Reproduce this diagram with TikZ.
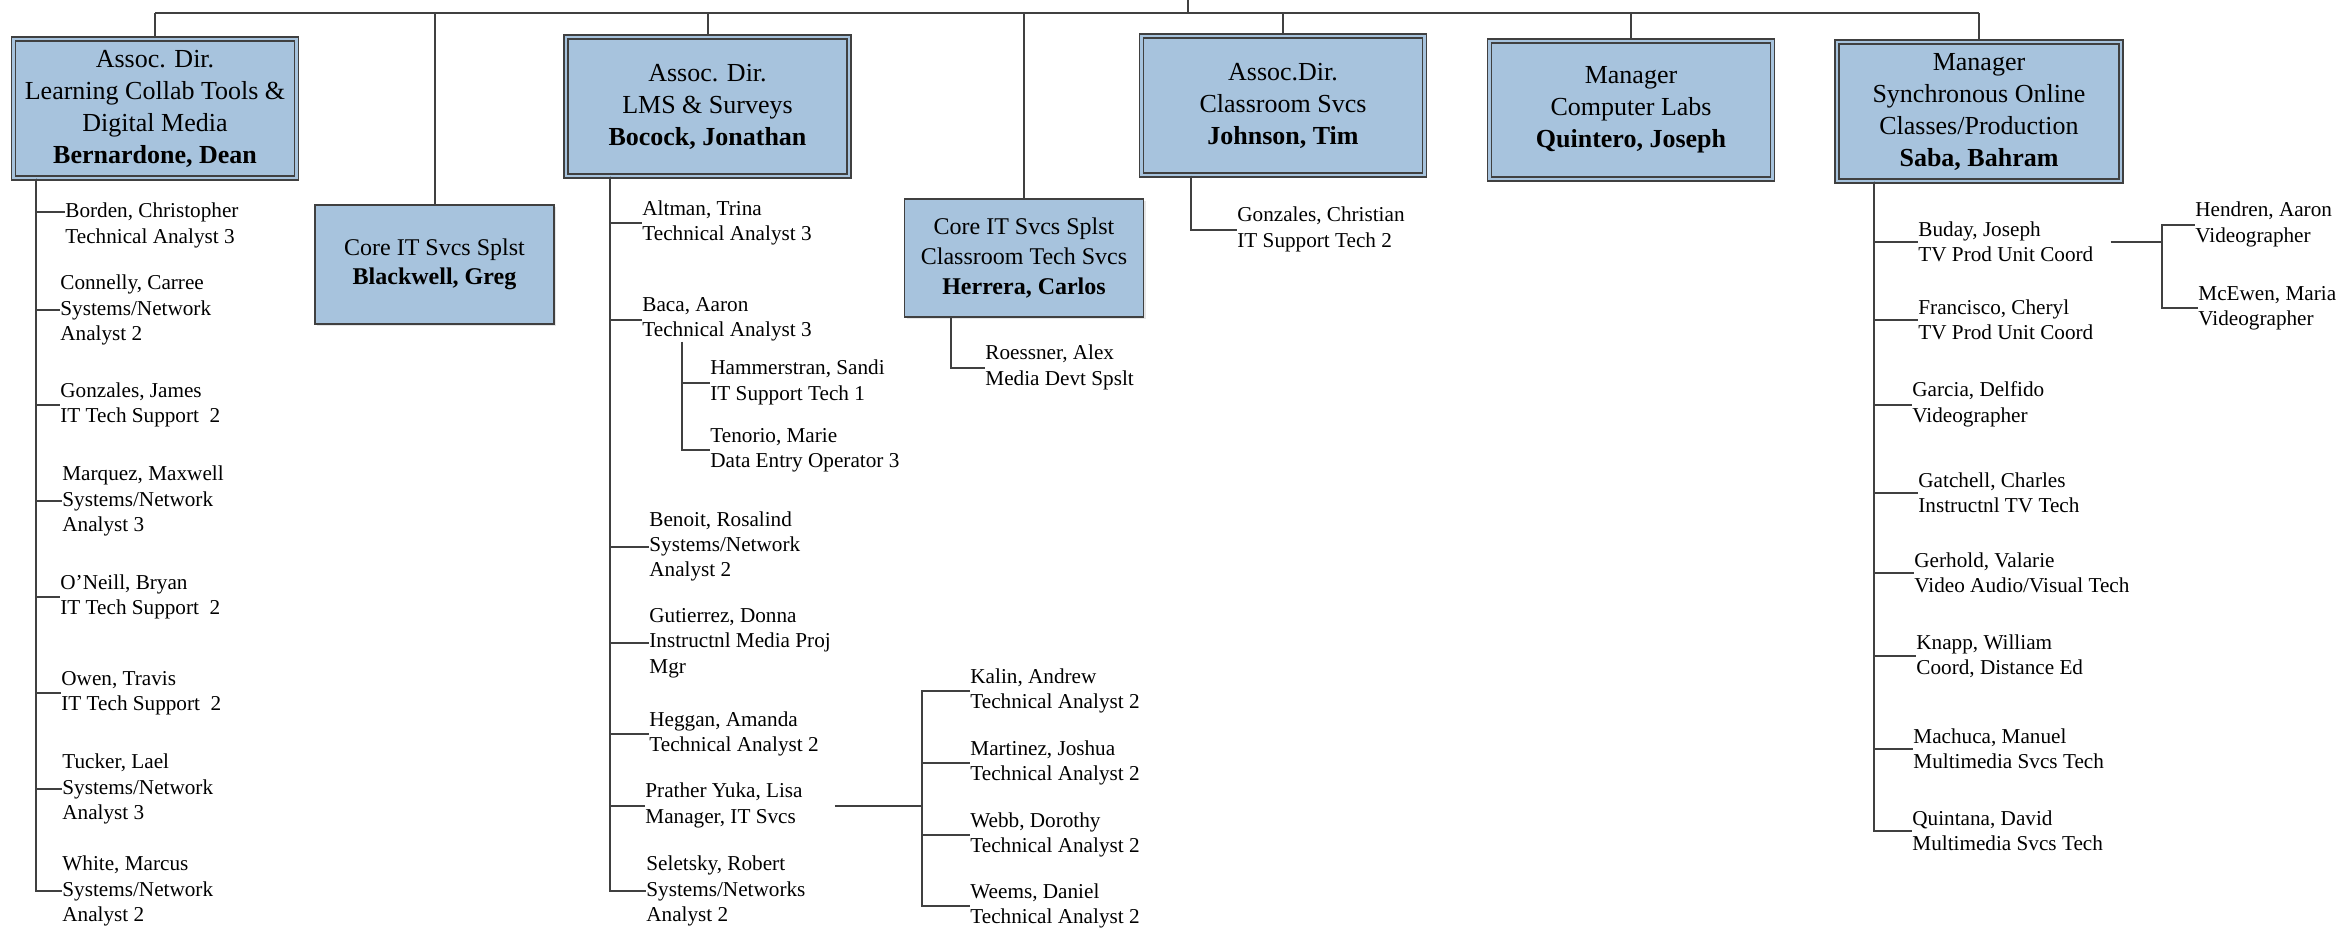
\documentclass[tikz,border=0pt]{standalone}
\usepackage{fontspec}
\setmainfont{Liberation Serif}
\usetikzlibrary{positioning,calc,shadows}
\definecolor{BoxBlue}{RGB}{167,195,221}
\definecolor{LineGray}{RGB}{64,64,64}

\begin{document}
\begin{tikzpicture}[x=0.5pt, y=-0.5pt,
  link/.style={draw=LineGray, line width=1pt},
  leadbox/.style={draw=LineGray, line width=0.7pt, double=BoxBlue, double distance=1.4pt,
    fill=BoxBlue, align=center, inner sep=0pt, font=\fontsize{13}{16}\selectfont,
    minimum width=141.5pt, minimum height=69.5pt,
    drop shadow={shadow xshift=1.2pt, shadow yshift=-1.2pt, opacity=0.2}},
  corebox/.style={draw=LineGray, line width=0.9pt, fill=BoxBlue, align=center, inner sep=0pt,
    font=\fontsize{12}{14.8}\selectfont, minimum width=119.5pt, minimum height=59pt,
    drop shadow={shadow xshift=1.2pt, shadow yshift=-1.2pt, opacity=0.2}},
  staff/.style={anchor=west, align=left, inner sep=0pt, font=\fontsize{10.6}{12.7}\selectfont}]

\useasboundingbox (0,0) rectangle (2339,932);

% top row
\node[leadbox] (bern) at (155,108.5)
  {Assoc. Dir.\\Learning Collab Tools \&\\Digital Media\\\textbf{Bernardone, Dean}};
\node[corebox, minimum height=59.5pt] (blackwell) at (434.5,264.5)
  {Core IT Svcs Splst\\\textbf{Blackwell, Greg}};
\node[leadbox] (bocock) at (707.5,106.5)
  {Assoc. Dir.\\LMS \& Surveys\\\textbf{Bocock, Jonathan}};
\node[corebox] (herrera) at (1024,258)
  {Core IT Svcs Splst\\Classroom Tech Svcs\\\textbf{Herrera, Carlos}};
\node[leadbox] (johnson) at (1283,105.5)
  {Assoc.Dir.\\Classroom Svcs\\\textbf{Johnson, Tim}};
\node[leadbox, minimum height=69pt] (quintero) at (1631,110)
  {Manager\\Computer Labs\\\textbf{Quintero, Joseph}};
\node[leadbox, minimum width=142pt] (saba) at (1979,111.5)
  {Manager\\Synchronous Online\\Classes/Production\\\textbf{Saba, Bahram}};

\coordinate (root) at (1188,0);
\coordinate (bus) at (1188,13);
\draw[link] (root) -- (bus);
\draw[link] (bern.north |- bus) -- (saba.north |- bus);
\foreach \b in {bern,blackwell,bocock,herrera,johnson,quintero,saba}
  \draw[link] (\b.north |- bus) -- (\b.north);

% Bernardone
\node[staff] (borden) at (65,225.5) {Borden, Christopher\\Technical Analyst 3};
\node[staff] (connelly) at (60,310) {Connelly, Carree\\Systems/Network\\Analyst 2};
\node[staff] (gonzalesj) at (60,405) {Gonzales, James\\IT Tech Support~ 2};
\node[staff] (marquez) at (62,501) {Marquez, Maxwell\\Systems/Network\\Analyst 3};
\node[staff] (oneill) at (60,597) {O'Neill, Bryan\\IT Tech Support~ 2};
\node[staff] (owen) at (61,693) {Owen, Travis\\IT Tech Support~ 2};
\node[staff] (tucker) at (62,789) {Tucker, Lael\\Systems/Network\\Analyst 3};
\node[staff] (white) at (62,891) {White, Marcus\\Systems/Network\\Analyst 2};
\coordinate (bern-trunk) at ([xshift=11.5pt]bern.south west);
\draw[link] (bern-trunk) |- ([yshift=7pt]borden.west);
\foreach \c in {connelly,gonzalesj,marquez,oneill,owen,tucker,white}
  \draw[link] (bern-trunk) |- (\c.west);

% Bocock
\node[staff] (altman) at (642,223) {Altman, Trina\\Technical Analyst 3};
\node[staff] (baca) at (642,319.5) {Baca, Aaron\\Technical Analyst 3};
\node[staff] (hammer) at (710,382.5) {Hammerstran, Sandi\\IT Support Tech 1};
\node[staff] (tenorio) at (710,450) {Tenorio, Marie\\Data Entry Operator 3};
\node[staff] (benoit) at (649,546.5) {Benoit, Rosalind\\Systems/Network\\Analyst 2};
\node[staff] (gutierrez) at (649,643) {Gutierrez, Donna\\Instructnl Media Proj\\Mgr};
\node[staff] (heggan) at (649,734) {Heggan, Amanda\\Technical Analyst 2};
\node[staff] (prather) at (645,805.5) {Prather Yuka, Lisa\\Manager, IT Svcs};
\node[staff] (seletsky) at (646,891) {Seletsky, Robert\\Systems/Networks\\Analyst 2};
\node[staff] (kalin) at (970,691) {Kalin, Andrew\\Technical Analyst 2};
\node[staff] (martinez) at (970,763) {Martinez, Joshua\\Technical Analyst 2};
\node[staff] (webb) at (970,835) {Webb, Dorothy\\Technical Analyst 2};
\node[staff] (weems) at (970,906) {Weems, Daniel\\Technical Analyst 2};
\coordinate (bocock-trunk) at ([xshift=22.5pt]bocock.south west);
\foreach \c in {altman,baca,benoit,gutierrez,heggan,prather,seletsky}
  \draw[link] (bocock-trunk) |- (\c.west);
\coordinate (baca-trunk) at ([xshift=20pt]baca.south west);
\foreach \c in {hammer,tenorio}
  \draw[link] (baca-trunk) |- (\c.west);
\coordinate (prather-hub) at ([xshift=-24pt]kalin.west |- prather.east);
\draw[link] ([xshift=16pt]prather.east) -- (prather-hub);
\foreach \c in {kalin,martinez,webb,weems}
  \draw[link] (prather-hub) |- (\c.west);

% Herrera, Johnson
\node[staff] (roessner) at (985,367.5) {Roessner, Alex\\Media Devt Spslt};
\draw[link] ([xshift=23.5pt]herrera.south west) |- (roessner.west);
\node[staff] (gonzalesc) at (1237,229.5) {Gonzales, Christian\\IT Support Tech 2};
\draw[link] ([xshift=25pt]johnson.south west) |- (gonzalesc.west);

% Saba
\node[staff] (buday) at (1918,242) {Buday, Joseph\\TV Prod Unit Coord};
\node[staff] (francisco) at (1918,320) {Francisco, Cheryl\\TV Prod Unit Coord};
\node[staff] (garcia) at (1912,404.5) {Garcia, Delfido\\Videographer};
\node[staff] (gatchell) at (1918,493) {Gatchell, Charles\\Instructnl TV Tech};
\node[staff] (gerhold) at (1914,573) {Gerhold, Valarie\\Video Audio/Visual Tech};
\node[staff] (knapp) at (1916,656) {Knapp, William\\Coord, Distance Ed};
\node[staff] (machuca) at (1913,748.5) {Machuca, Manuel\\Multimedia Svcs Tech};
\node[staff] (quintana) at (1912,830.5) {Quintana, David\\Multimedia Svcs Tech};
\node[staff] (hendren) at (2195,224.5) {Hendren, Aaron\\Videographer};
\node[staff] (mcewen) at (2198,308) {McEwen, Maria\\Videographer};
\coordinate (saba-trunk) at ([xshift=19pt]saba.south west);
\foreach \c in {buday,francisco,garcia,gatchell,gerhold,knapp,machuca,quintana}
  \draw[link] (saba-trunk) |- (\c.west);
\coordinate (buday-hub) at ([xshift=-16.5pt]hendren.west |- buday.east);
\draw[link] ([xshift=8.5pt]buday.east) -- (buday-hub);
\foreach \c in {hendren,mcewen}
  \draw[link] (buday-hub) |- (\c.west);
\end{tikzpicture}
\end{document}
